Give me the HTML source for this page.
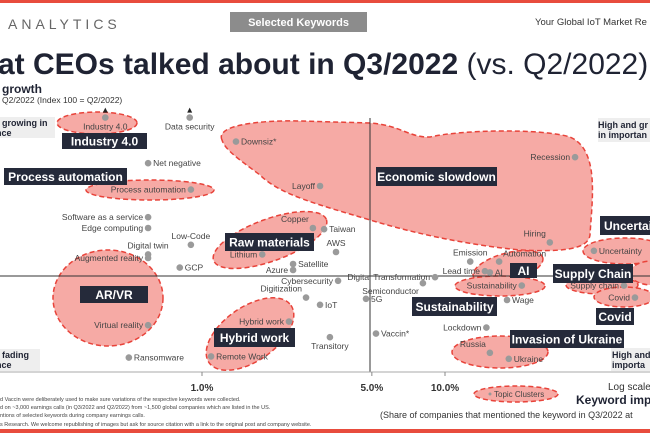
<!DOCTYPE html>
<html><head><meta charset="utf-8">
<style>
html,body{margin:0;padding:0;background:#fff;}
svg{display:block;font-family:"Liberation Sans",sans-serif;}
</style></head>
<body>
<svg id="chart" width="650" height="433" viewBox="0 0 650 433">
<rect x="0" y="0" width="650" height="3" fill="#e84c3d"/>
<rect x="0" y="429" width="650" height="4" fill="#e84c3d"/>
<text x="8" y="29" font-size="14" fill="#666" letter-spacing="4">ANALYTICS</text>
<rect x="230" y="12" width="137" height="20" fill="#8c8c8c"/>
<text x="298.5" y="26" font-size="11" font-weight="bold" fill="#fff" text-anchor="middle">Selected Keywords</text>
<text x="535" y="25" font-size="9.5" fill="#333">Your Global IoT Market Re</text>
<text x="-2" y="74" font-size="30" fill="#1f2333"><tspan font-weight="bold">at CEOs talked about in Q3/2022</tspan> (vs. Q2/2022)</text>
<text x="2" y="93" font-size="12" font-weight="bold" fill="#1f2333">growth</text>
<text x="2" y="103" font-size="8.5" fill="#333">Q2/2022 (Index 100 = Q2/2022)</text>

<g id="clusters" fill="#f6aaa5" stroke="#e8433a" stroke-width="1.5" stroke-dasharray="5,3">
<path d="M222,140 C215,125 260,120 300,121 L370,123 C400,125 410,138 430,137 C460,130 540,128 570,137 C600,150 592,200 590,235 C588,250 560,252 520,250 C470,245 420,235 370,220 C320,205 280,195 260,175 C240,160 225,150 222,140 Z"/>
<ellipse cx="97" cy="123" rx="40" ry="11"/>
<ellipse cx="150" cy="190" rx="64" ry="10"/>
<ellipse cx="270" cy="240" rx="60" ry="21" transform="rotate(-20 270 240)"/>
<ellipse cx="108" cy="298" rx="55" ry="48"/>
<ellipse cx="250" cy="334" rx="50" ry="27" transform="rotate(-35 250 334)"/>
<ellipse cx="508" cy="267" rx="36" ry="14" transform="rotate(-15 508 267)"/>
<ellipse cx="500" cy="286" rx="45" ry="10"/>
<ellipse cx="602" cy="285" rx="36" ry="9"/>
<ellipse cx="624" cy="297" rx="30" ry="10"/>
<ellipse cx="625" cy="251" rx="42" ry="13"/>
<ellipse cx="652" cy="273" rx="22" ry="12"/>
<ellipse cx="500" cy="352" rx="48" ry="16"/>
<ellipse cx="516" cy="394" rx="42" ry="8"/>
</g>

<line x1="0" y1="276" x2="650" y2="276" stroke="#333" stroke-width="1"/>
<line x1="370" y1="118" x2="370" y2="372" stroke="#333" stroke-width="1"/>
<line x1="0" y1="372" x2="650" y2="372" stroke="#aaa" stroke-width="1"/>

<g id="ticks"></g>
<g id="points"></g>

<g id="cluster-labels" font-weight="bold" fill="#fff" font-size="12"></g>

<rect x="0" y="117" width="55" height="21" fill="#eee"/>
<text x="2" y="126" font-size="9" font-weight="bold" fill="#1f2333">growing in<tspan x="-4" dy="10">nce</tspan></text>
<rect x="598" y="118" width="52" height="24" fill="#eee"/>
<text x="598" y="128" font-size="9" font-weight="bold" fill="#1f2333">High and gr<tspan x="598" dy="10">in importan</tspan></text>
<rect x="0" y="349" width="40" height="22" fill="#eee"/>
<text x="2" y="358" font-size="9" font-weight="bold" fill="#1f2333">fading<tspan x="-4" dy="10">nce</tspan></text>
<rect x="611" y="348" width="39" height="23" fill="#eee"/>
<text x="612" y="358" font-size="9" font-weight="bold" fill="#1f2333">High and<tspan x="612" dy="10">importa</tspan></text>

<circle cx="490" cy="394" r="1.5" fill="#999"/>
<text x="494" y="397" font-size="8" fill="#444">Topic Clusters</text>
<text x="608" y="390" font-size="10" fill="#333">Log scale</text>
<text x="576" y="404" font-size="12" font-weight="bold" fill="#1f2333">Keyword imp</text>
<text x="380" y="418" font-size="9" fill="#333">(Share of companies that mentioned the keyword in Q3/2022 at</text>
<g font-size="5.5" fill="#444">
<text x="0" y="401">d Vaccin were deliberately used to make sure variations of the respective keywords were collected.</text>
<text x="0" y="409">d on ~3,000 earnings calls (in Q3/2022 and Q2/2022) from ~1,500 global companies which are listed in the US.</text>
<text x="0" y="417">ntions of selected keywords during company earnings calls.</text>
<text x="0" y="426">s Research. We welcome republishing of images but ask for source citation with a link to the original post and company website.</text>
</g>
</svg>
<script>
const names = ["Industry 4.0","Data security","Downsiz*","Net negative","Recession","Layoff","Process automation","Software as a service","Edge computing","Low-Code","Digital twin","Augmented reality","GCP","Copper","Taiwan","AWS","Lithium","Satellite","Azure","Digital Transformation","Lead time","AI","Emission","Automation","Hiring","Uncertainty","Supply chain","Covid","Sustainability","Wage","Cybersecurity","Semiconductor","Digitization","IoT","5G","Hybrid work","Vaccin*","Transitory","Virtual reality","Lockdown","Russia","Ukraine","Remote Work","Ransomware"];
const shareValues = [0.40,0.89,1.38,0.60,34.3,3.06,0.90,0.60,0.60,0.90,0.60,0.60,0.81,2.86,3.18,3.56,1.77,2.37,2.37,9.1,14.6,15.3,12.7,16.7,27.0,41.0,54.5,60.5,20.7,18.0,3.63,8.11,2.68,3.06,4.73,2.28,5.20,3.36,0.60,14.8,15.3,18.3,1.09,0.50];
const growthValues = [232,232,212,194,199,175,172,149,140,126,118,115,107,140,139,120,118,110,105,99,104,103,112,112,128,121,92,82,92,80,96,94,82,76,81,62,52,49,59,57,36,31,33,32];
const labelSide = ["b","b","r","r","l","l","l","l","l","t","t","l","r","tl","r","t","l","r","l","l","l","r","t","tr","tl","r","l","l","l","r","l","bl","tl","r","r","l","r","b","l","l","tl","r","r","r"];
const tickValues = [1,5,10];
const tickLabels = ["1.0%","5.0%","10.0%"];

const xScale = v => 202 + 243 * Math.log10(v);
const yScale = g => 276 - (g - 100) * 1.2;
const NS = "http://www.w3.org/2000/svg";

const tg = document.getElementById("ticks");
tickValues.forEach((t, i) => {
  const x = xScale(t);
  const l = document.createElementNS(NS, "line");
  l.setAttribute("x1", x); l.setAttribute("x2", x);
  l.setAttribute("y1", 372); l.setAttribute("y2", 376);
  l.setAttribute("stroke", "#888");
  
  
  tg.appendChild(l);
  const tx = document.createElementNS(NS, "text");
  tx.setAttribute("x", x); tx.setAttribute("y", 391);
  tx.setAttribute("font-size", "10"); tx.setAttribute("font-weight", "bold");
  tx.setAttribute("text-anchor", "middle"); tx.setAttribute("fill", "#333");
  tx.textContent = tickLabels[i];
  
  
  tg.appendChild(tx);
});

const pg = document.getElementById("points");
names.forEach((n, i) => {
  const x = xScale(shareValues[i]), y = yScale(growthValues[i]);
  const c = document.createElementNS(NS, "circle");
  c.setAttribute("cx", x); c.setAttribute("cy", y); c.setAttribute("r", 3.3);
  c.setAttribute("fill", "#9a9a9a");
  
  
  pg.appendChild(c);
  const t = document.createElementNS(NS, "text");
  const s = labelSide[i];
  let tx = x, ty = y + 3, anchor = "start";
  if (s === "r") { tx = x + 5; }
  else if (s === "l") { tx = x - 5; anchor = "end"; }
  else if (s === "t") { ty = y - 6; anchor = "middle"; }
  else if (s === "b") { ty = y + 12; anchor = "middle"; }
  else if (s === "tl") { tx = x - 4; ty = y - 6; anchor = "end"; }
  else if (s === "tr") { tx = x + 4; ty = y - 5; }
  else if (s === "bl") { tx = x - 4; ty = y + 11; anchor = "end"; }
  t.setAttribute("x", tx); t.setAttribute("y", ty);
  t.setAttribute("text-anchor", anchor);
  t.setAttribute("font-size", "8.5"); t.setAttribute("fill", "#444");
  t.textContent = n;
  
  
  pg.appendChild(t);
});
// off-chart arrows
[0, 1].forEach(i => {
  const x = xScale(shareValues[i]), y = yScale(growthValues[i]);
  const p = document.createElementNS(NS, "path");
  p.setAttribute("d", `M${x-2.5},${y-5} L${x+2.5},${y-5} L${x},${y-10} Z`);
  p.setAttribute("fill", "#222");
  
  
  pg.appendChild(p);
});

const clusterLabels = [
  ["Industry 4.0",62,133,85,16],["Process automation",4,168,123,17],["Economic slowdown",376,167,121,19],
  ["Raw materials",225,233,89,18],["AR/VR",80,286,68,17],["Hybrid work",214,328,81,19],
  ["Sustainability",412,297,85,19],["AI",510,263,27,15],["Supply Chain",553,264,80,19],
  ["Covid",596,308,38,17],["Uncertainty",600,216,60,19],["Invasion of Ukraine",510,330,114,18]
];
const cg = document.getElementById("cluster-labels");
clusterLabels.forEach(c => {
  const r = document.createElementNS(NS, "rect");
  r.setAttribute("x", c[1]); r.setAttribute("y", c[2]);
  r.setAttribute("width", c[3]); r.setAttribute("height", c[4]);
  r.setAttribute("fill", "#252a3a");
  
  
  cg.appendChild(r);
  const t = document.createElementNS(NS, "text");
  t.setAttribute("x", c[1] + (c[0]==="Uncertainty" ? 4 : c[3]/2));
  t.setAttribute("y", c[2] + c[4]/2 + 4.5);
  t.setAttribute("text-anchor", c[0]==="Uncertainty" ? "start" : "middle");
  t.textContent = c[0];
  
  
  cg.appendChild(t);
});
</script>
</body></html>
